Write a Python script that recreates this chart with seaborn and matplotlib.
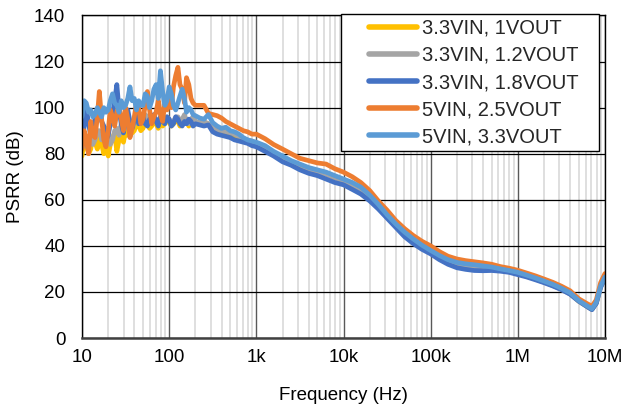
import numpy as np
import pandas as pd
import matplotlib
matplotlib.use("Agg")
import matplotlib.pyplot as plt
import seaborn as sns
from matplotlib.ticker import FixedLocator, FixedFormatter, NullFormatter
from matplotlib.path import Path

# ---------------- data ----------------
freq_hz = [10, 10.6, 11.2, 11.9, 12.6, 13.3, 14.1, 15.0, 15.8, 16.8,
           17.8, 18.8, 20, 21.1, 22.4, 23.7, 25.1, 26.6, 28.2, 29.9,
           31.6, 33.5, 35.5, 37.6, 39.8, 42.2, 44.7, 47.3, 50.1, 53.1,
           56.2, 59.6, 63.1, 66.8, 70.8, 75, 79.4, 84.1, 89.1, 94.4,
           100, 106, 112, 119, 126, 133, 141, 150, 158, 168,
           178, 188, 200,
           224, 251, 282, 316, 355, 398, 447, 501, 562, 631, 708, 794, 891,
           1000, 1260, 1580, 2000, 2510, 3160, 3980, 5010, 6310, 7940,
           10000, 12600, 15800, 20000, 25100, 31600, 39800, 50100, 63100, 79400,
           1e5, 1.26e5, 1.58e5, 2e5, 2.51e5, 3.16e5, 3.98e5, 5.01e5, 6.31e5, 7.94e5,
           1e6, 1.26e6, 1.58e6, 2e6, 2.51e6, 3.16e6, 3.98e6, 5.01e6, 6.31e6, 7.08e6,
           7.94e6, 8.91e6, 1e7]

psrr_33vin_1vout = [79, 86, 84, 80, 82, 88, 85, 82, 87, 84,
                    80, 86, 79, 84, 87, 89, 81, 86, 88, 85,
                    90, 88, 91, 89, 90, 93, 92, 90, 91, 94,
                    93, 91, 92, 94, 93, 91, 94, 92, 93, 95,
                    93.5, 92, 93, 95, 94, 92, 93, 95, 94, 92,
                    93, 94, 94,
                    93, 93.5, 93, 91, 90, 89.5, 89, 88.5, 88, 87, 86.5, 85.5, 85,
                    84.5, 83, 80.5, 78.5, 76.5, 75, 73.5, 72.5, 71.5, 70,
                    68.5, 67, 65, 61.5, 57.5, 53, 49, 45.5, 42.5, 39.8,
                    37.5, 35.3, 33.5, 32.3, 31.7, 31.3, 30.9, 30.5, 29.8, 29,
                    28.2, 27, 25.8, 24.4, 23, 21.3, 19.3, 16, 13.6, 12.5,
                    15.3, 22.3, 26.3]

psrr_33vin_12vout = [85, 88, 83, 86, 88, 84, 86, 90, 90, 86,
                     87, 91, 88, 84, 86, 90, 91, 88, 93, 90,
                     92, 95, 94, 91, 93, 96, 95, 93, 94, 97,
                     96, 93, 94, 96, 95, 93, 96, 94, 94, 96,
                     95, 93, 94, 96, 96, 94, 95, 97, 94, 93,
                     95, 96, 94,
                     93.5, 94, 93, 91.5, 90.5, 90, 89.5, 89, 88.5, 87.5, 86.5, 86, 85.5,
                     84, 82.5, 80, 78, 76, 74.5, 73, 72, 71, 69.5,
                     68, 66.5, 64.5, 61, 57, 52.5, 48.5, 45, 42, 39.5,
                     37.2, 35, 33.2, 32, 31.4, 31, 30.6, 30.2, 29.6, 28.8,
                     28, 26.8, 25.6, 24.2, 22.8, 21.1, 19.1, 15.9, 13.5, 12.4,
                     15.2, 22.2, 26.2]

psrr_33vin_18vout = [84, 92, 100, 93, 88, 91, 95, 99, 98, 94,
                     92, 86, 88, 93, 97, 103, 110, 99, 93, 89,
                     96, 99, 94, 91, 95, 98, 93, 96, 96, 93,
                     92, 95, 95, 97, 94, 92, 96, 94, 93, 96,
                     95, 92, 93, 96, 95, 93, 92, 94, 93, 95,
                     94, 92, 93,
                     92.5, 92, 92.5, 89.5, 88.5, 88, 87.5, 87, 86, 85.5, 85, 84.5, 83.5,
                     83, 81, 79, 76.5, 75, 73, 71.5, 70.5, 69, 67.5,
                     66.5, 64.5, 62.5, 59.5, 56, 52, 48, 44, 41, 38.5,
                     36.5, 34, 32, 30.5, 29.8, 29.3, 29.2, 29.3, 29, 28.5,
                     27.5, 26.5, 25.3, 24, 22.6, 21, 19, 16, 13.5, 12.3,
                     15, 22, 26]

psrr_5vin_25vout = [82, 90, 86, 80, 94, 88, 87, 96, 107, 95,
                    86, 83, 90, 99, 96, 92, 98, 101, 95, 90,
                    100, 95, 87, 91, 96, 102, 100, 93, 95, 101,
                    107, 99, 93, 96, 98, 103, 97, 94, 102, 99,
                    104, 100, 109, 114, 117.5, 110, 108, 102, 113, 110,
                    104, 102, 101,
                    101, 101, 97.5, 97, 96.5, 95.5, 94, 93, 92, 91, 90, 89.5, 88.5,
                    88.5, 86.5, 84, 82, 80, 78, 77, 76, 75.5, 73.5,
                    72, 70, 67.5, 64, 59.5, 55.5, 51, 47.5, 44.5, 42,
                    40, 37.5, 35.5, 34.3, 33.6, 33.1, 32.6, 32, 31, 30.3,
                    29.4, 28.2, 27, 25.6, 24.2, 22.5, 20.5, 17, 14.8, 13.8,
                    16.5, 24, 28]

psrr_5vin_33vout = [96, 103, 102, 98, 99, 96, 97, 100, 98, 96,
                    100, 98, 99, 103, 106, 102, 101, 98, 103, 100,
                    101, 104, 109, 103, 104, 99, 103, 101, 101, 106,
                    105, 100, 103, 108, 110, 104, 116, 107, 101, 103,
                    109, 106, 101, 99, 102, 105, 108, 104, 98, 100,
                    99, 97, 96.5,
                    95.5, 95, 97, 93.5, 92, 91, 91.5, 90, 89.5, 88.5, 87, 86, 85.5,
                    85, 83.5, 81, 79, 77, 75.5, 74, 73, 72, 70.5,
                    69, 67.5, 65.5, 62, 58, 53.5, 49.5, 46, 43, 40.3,
                    38, 35.8, 34, 32.8, 32.2, 31.8, 31.3, 30.8, 30, 29.3,
                    28.5, 27.3, 26.1, 24.7, 23.3, 21.6, 19.6, 16.2, 13.8, 12.7,
                    15.5, 22.5, 26.5]

series_labels = ["3.3VIN, 1VOUT", "3.3VIN, 1.2VOUT", "3.3VIN, 1.8VOUT",
                 "5VIN, 2.5VOUT", "5VIN, 3.3VOUT"]
series_values = [psrr_33vin_1vout, psrr_33vin_12vout, psrr_33vin_18vout,
                 psrr_5vin_25vout, psrr_5vin_33vout]
series_colors = ["#FFC000", "#A5A5A5", "#4472C4", "#ED7D31", "#5B9BD5"]

x_tick_values = [10, 100, 1e3, 1e4, 1e5, 1e6, 1e7]
x_tick_labels = ["10", "100", "1k", "10k", "100k", "1M", "10M"]
y_tick_values = [0, 20, 40, 60, 80, 100, 120, 140]

# ---------------- build long table ----------------
frames = []
for lab, vals in zip(series_labels, series_values):
    frames.append(pd.DataFrame({"Frequency": freq_hz, "PSRR": vals, "Series": lab}))
df = pd.concat(frames, ignore_index=True)

# ---------------- plot ----------------
sns.set_theme(style="white")
plt.rcParams["font.family"] = ["Liberation Sans", "DejaVu Sans"]

fig = plt.figure(figsize=(6.28, 4.11), dpi=100)
ax = fig.add_axes([82 / 628, 1 - 338 / 411, (605 - 82) / 628, (338 - 15.5) / 411])

sns.lineplot(data=df, x="Frequency", y="PSRR", hue="Series",
             hue_order=series_labels, palette=series_colors,
             sort=False, estimator=None, linewidth=3.4, ax=ax,
             legend=True)

ax.set_xscale("log")
ax.set_xlim(10, 1e7)
ax.set_ylim(0, 140)

ax.xaxis.set_major_locator(FixedLocator(x_tick_values))
ax.xaxis.set_major_formatter(FixedFormatter(x_tick_labels))
minor = [m * d for d in [10, 100, 1e3, 1e4, 1e5, 1e6] for m in range(2, 10)]
ax.xaxis.set_minor_locator(FixedLocator(minor))
ax.xaxis.set_minor_formatter(NullFormatter())
ax.set_yticks(y_tick_values)

ax.grid(True, which="minor", axis="x", color="#D9D9D9", linewidth=1.2)
ax.grid(True, which="major", axis="x", color="#595959", linewidth=1.0)
ax.grid(True, which="major", axis="y", color="#000000", linewidth=0.9)
ax.set_axisbelow(True)

for side in ["left", "right", "top"]:
    ax.spines[side].set_color("#000000")
    ax.spines[side].set_linewidth(1.0)
ax.spines["bottom"].set_color("#404040")
ax.spines["bottom"].set_linewidth(1.8)

ax.tick_params(axis="x", which="both", length=0, labelsize=13.5,
               colors="#000000", pad=8)
ax.tick_params(axis="y", which="both", length=0, labelsize=13.5,
               colors="#000000", pad=12)
ax.set_xlabel("Frequency (Hz)", fontsize=13.5, color="#000000", labelpad=15)
ax.set_ylabel("PSRR (dB)", fontsize=13.5, color="#000000", labelpad=7)

# legend: frame widened horizontally (Excel style wide side margins)
EXTRA_LEFT_PX = 23.6
EXTRA_RIGHT_PX = 15.6


def wide_box(x0, y0, width, height, mutation_size):
    s = fig.dpi / 100.0
    l = x0 - EXTRA_LEFT_PX * s
    r = x0 + width + EXTRA_RIGHT_PX * s
    t = y0 + height
    return Path([(l, y0), (r, y0), (r, t), (l, t), (l, y0)], closed=True)


handles, labels = ax.get_legend_handles_labels()
for h in handles:
    h.set_linewidth(4)
    h.set_solid_capstyle("round")
leg = ax.legend(handles, labels, loc="upper right",
                bbox_to_anchor=(583.4 / 628, 1 - 14.5 / 411),
                bbox_transform=fig.transFigure,
                fontsize=14.5, frameon=True, fancybox=False,
                handlelength=2.39, handletextpad=0.25, labelspacing=0.4,
                borderpad=0.22, borderaxespad=0)
frame = leg.get_frame()
frame.set_boxstyle(wide_box)
frame.set_edgecolor("#000000")
frame.set_linewidth(1.0)
frame.set_facecolor("white")
frame.set_alpha(1.0)

fig.savefig("out.png", dpi=100)
